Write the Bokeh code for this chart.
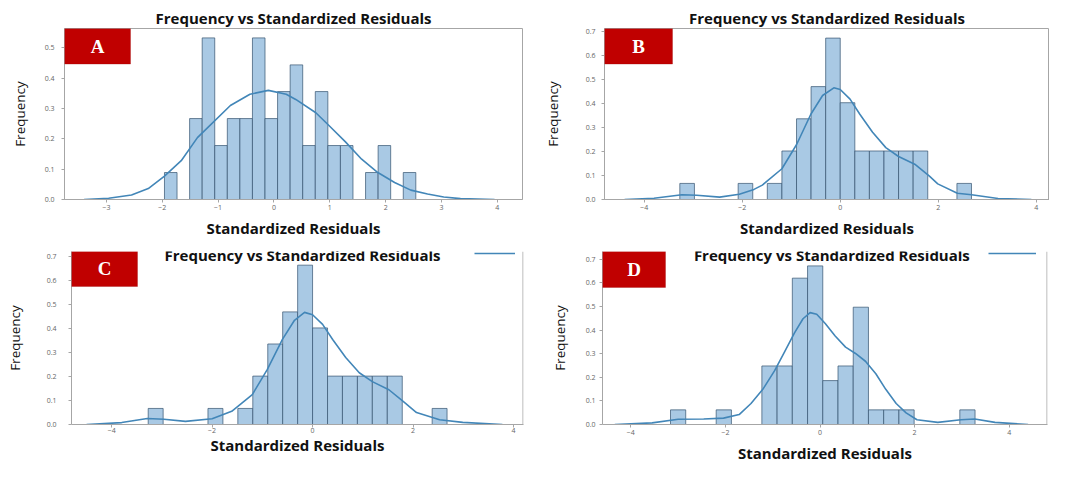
from bokeh.plotting import figure
from bokeh.layouts import column, row
from bokeh.models import (Range1d, FixedTicker, BoxAnnotation, Label, Span,
                          Legend, LegendItem, NumeralTickFormatter)
from bokeh.embed import file_html
from bokeh.resources import INLINE

# ---------------- data ----------------
title_text = "Frequency vs Standardized Residuals"
x_label = "Standardized Residuals"
y_label = "Frequency"
panel_letters = ["A", "B", "C", "D"]

x_ticks_a = [-3, -2, -1, 0, 1, 2, 3, 4]
x_ticks_bcd = [-4, -2, 0, 2, 4]
y_ticks_a = [0.0, 0.1, 0.2, 0.3, 0.4, 0.5]
y_ticks_bcd = [0.0, 0.1, 0.2, 0.3, 0.4, 0.5, 0.6, 0.7]

# Panel A
a_edges = [-1.96, -1.735, -1.51, -1.285, -1.06, -0.835, -0.61, -0.385, -0.16, 0.065,
           0.29, 0.515, 0.74, 0.965, 1.19, 1.415, 1.64, 1.865, 2.09, 2.315, 2.54]
a_density = [0.089, 0.0, 0.267, 0.533, 0.178, 0.267, 0.267, 0.533, 0.267, 0.356,
             0.444, 0.178, 0.356, 0.178, 0.178, 0.0, 0.089, 0.178, 0.0, 0.089]
a_kde_x = [-3.40, -2.96, -2.55, -2.25, -1.96, -1.66, -1.37, -1.26, -0.78, -0.43, -0.10,
           0.22, 0.39, 0.75, 0.98, 1.28, 1.57, 1.86, 2.16, 2.45, 2.75, 3.04, 3.34, 3.95]
a_kde_y = [0.0, 0.004, 0.015, 0.036, 0.077, 0.128, 0.204, 0.224, 0.31, 0.347, 0.36,
           0.347, 0.33, 0.286, 0.245, 0.19, 0.133, 0.089, 0.056, 0.031, 0.018, 0.008, 0.003, 0.0]

# Panel B
b_edges = [-3.273, -2.975, -2.678, -2.380, -2.083, -1.785, -1.488, -1.190, -0.892, -0.595,
           -0.297, 0.0, 0.298, 0.595, 0.893, 1.190, 1.488, 1.786, 2.083, 2.381, 2.678]
b_density = [0.067, 0.0, 0.0, 0.0, 0.067, 0.0, 0.067, 0.202, 0.336, 0.470,
             0.672, 0.403, 0.202, 0.202, 0.202, 0.202, 0.202, 0.0, 0.0, 0.067]
b_kde_x = [-4.40, -3.80, -3.23, -2.93, -2.46, -2.06, -1.76, -1.59, -1.19, -0.89, -0.60,
           -0.36, -0.13, 0.0, 0.20, 0.40, 0.66, 0.93, 1.19, 1.52, 1.82, 1.99, 2.39, 2.68,
           3.22, 3.90]
b_kde_y = [0.0, 0.005, 0.020, 0.018, 0.010, 0.022, 0.042, 0.060, 0.128, 0.229, 0.355,
           0.433, 0.465, 0.458, 0.418, 0.355, 0.280, 0.216, 0.179, 0.147, 0.097, 0.065, 0.026,
           0.020, 0.004, 0.0]

# Panel C
c_edges = [-3.273, -2.975, -2.678, -2.380, -2.083, -1.785, -1.488, -1.190, -0.892, -0.595,
           -0.297, 0.0, 0.298, 0.595, 0.893, 1.190, 1.488, 1.786, 2.083, 2.381, 2.678]
c_density = [0.067, 0.0, 0.0, 0.0, 0.067, 0.0, 0.067, 0.202, 0.336, 0.470,
             0.665, 0.403, 0.202, 0.202, 0.202, 0.202, 0.202, 0.0, 0.0, 0.067]
c_kde_x = [-4.50, -3.80, -3.29, -2.96, -2.53, -2.00, -1.61, -1.20, -0.90, -0.60, -0.36,
           -0.16, 0.0, 0.20, 0.40, 0.66, 0.93, 1.19, 1.52, 1.81, 2.07, 2.53, 2.99, 3.78]
c_kde_y = [0.0, 0.008, 0.025, 0.022, 0.013, 0.024, 0.055, 0.125, 0.23, 0.355, 0.435,
           0.468, 0.458, 0.418, 0.355, 0.280, 0.216, 0.179, 0.145, 0.095, 0.050, 0.020,
           0.009, 0.0]

# Panel D
d_edges = [-3.162, -2.840, -2.518, -2.196, -1.874, -1.552, -1.230, -0.908, -0.586, -0.264,
           0.058, 0.380, 0.702, 1.024, 1.346, 1.668, 1.990, 2.312, 2.634, 2.956, 3.278]
d_density = [0.062, 0.0, 0.0, 0.062, 0.0, 0.0, 0.248, 0.248, 0.620, 0.672,
             0.186, 0.248, 0.497, 0.062, 0.062, 0.062, 0.0, 0.0, 0.0, 0.062]
d_kde_x = [-4.34, -3.55, -3.00, -2.46, -2.04, -1.71, -1.46, -1.21, -0.96, -0.75, -0.54,
           -0.36, -0.21, -0.07, 0.11, 0.32, 0.54, 0.75, 0.96, 1.18, 1.39, 1.61, 1.82,
           2.05, 2.49, 2.98, 3.27, 3.70, 4.40]
d_kde_y = [0.0, 0.007, 0.022, 0.023, 0.027, 0.042, 0.089, 0.149, 0.228, 0.308, 0.388,
           0.448, 0.474, 0.467, 0.428, 0.375, 0.328, 0.301, 0.268, 0.215, 0.149, 0.089,
           0.049, 0.020, 0.009, 0.020, 0.023, 0.009, 0.0]

# ---------------- styling ----------------
FONT = "Open Sans"
BAR_FILL = "#a9c9e4"
BAR_LINE = "#35536f"
KDE_COLOR = "#4286b8"
FRAME = "#a6a6a6"
RED = "#c00000"


def minus(v):
    return str(v).replace("-", "\u2212")


def make_panel(cfg):
    W, H = cfg["size"]
    bl, br, bt, bb = cfg["borders"]
    x0, x1 = cfg["xr"]
    y0, y1 = cfg["yr"]
    p = figure(width=W, height=H, output_backend="svg", toolbar_location=None,
               x_range=Range1d(x0, x1), y_range=Range1d(y0, y1),
               min_border_left=bl, min_border_right=br,
               min_border_top=bt, min_border_bottom=bb)
    p.background_fill_color = "white"
    p.border_fill_color = "white"
    p.xgrid.visible = False
    p.ygrid.visible = False

    # histogram bars
    edges = cfg["edges"]
    p.quad(left=edges[:-1], right=edges[1:], bottom=0, top=cfg["density"],
           fill_color=BAR_FILL, fill_alpha=1.0, line_color=BAR_LINE,
           line_alpha=0.7, line_width=1)
    # kde curve
    kde = p.line(cfg["kde_x"], cfg["kde_y"], line_color=KDE_COLOR, line_width=1.6,
                 line_join="round")

    # axes
    for ax in (p.xaxis[0], p.yaxis[0]):
        ax.axis_line_color = FRAME
        ax.major_tick_line_color = FRAME
        ax.major_tick_out = 3
        ax.major_tick_in = 0
        ax.minor_tick_line_color = None
        ax.major_label_text_font = FONT
        ax.major_label_text_font_size = "7px"
        ax.major_label_text_color = "#666666"
        ax.axis_label_text_font = FONT
        ax.axis_label_text_color = "#111111"
    xa = p.xaxis[0]
    xa.ticker = FixedTicker(ticks=cfg["xticks"])
    xa.major_label_overrides = {t: minus(t) for t in cfg["xticks"]}
    xa.axis_label = x_label
    xa.axis_label_text_font_size = "15px"
    xa.axis_label_text_font_style = "bold"
    xa.major_label_standoff = cfg["xstand"][0]
    xa.axis_label_standoff = cfg["xstand"][1]
    ya = p.yaxis[0]
    ya.ticker = FixedTicker(ticks=cfg["yticks"])
    ya.formatter = NumeralTickFormatter(format="0.0")
    ya.axis_label = y_label
    ya.axis_label_text_font_size = "13.5px"
    ya.axis_label_text_font_style = "normal"
    ya.major_label_standoff = cfg["ystand"][0]
    ya.axis_label_standoff = cfg["ystand"][1]

    fw = W - bl - br
    fh = H - bt - bb
    ppx = fw / (x1 - x0)
    ppy = fh / (y1 - y0)

    if cfg["outline"]:
        p.outline_line_color = FRAME
        p.outline_line_width = 1
    else:
        p.outline_line_color = None
        p.add_layout(Span(location=x1 - 0.5 / ppx, dimension="height",
                          line_color=FRAME, line_width=1))

    # title
    if cfg["title_above"]:
        p.title.text = title_text
        p.title.align = "center"
        p.title.text_font = FONT
        p.title.text_font_size = "15px"
        p.title.text_font_style = "bold"
        p.title.text_color = "#111111"
        p.title.standoff = cfg["title_standoff"]
    else:
        tx, ty = cfg["title_pos"]
        p.add_layout(Label(x=tx, y=ty, text=title_text, text_font=FONT,
                           text_font_size="15px", text_font_style="bold",
                           text_color="#111111", text_align="center",
                           text_baseline="middle"))
        lx, ly, lw = cfg["legend"]
        leg = Legend(items=[LegendItem(label=" ", renderers=[kde])],
                     location=(lx, ly), glyph_width=lw, glyph_height=6,
                     label_width=0, label_standoff=0, label_text_font_size="1px",
                     padding=0, margin=0, spacing=0,
                     border_line_alpha=0, background_fill_alpha=0)
        p.add_layout(leg)

    # red letter box at the top-left corner of the frame
    bw, bh = cfg["box"]
    p.add_layout(BoxAnnotation(left=x0, right=x0 + bw / ppx,
                               bottom=y1 - bh / ppy, top=y1,
                               fill_color=RED, fill_alpha=1.0,
                               line_color="#9a0000", line_width=1))
    p.add_layout(Label(x=x0 + bw / ppx / 2, y=y1 - bh / ppy / 2, text=cfg["letter"],
                       text_font="Liberation Serif", text_font_size="19px",
                       text_font_style="bold", text_color="white",
                       text_align="center", text_baseline="middle"))
    return p


cfgs = [
    dict(size=(532, 240), borders=(64, 10, 28, 34), xr=(-3.75, 4.45), yr=(0, 0.564),
         edges=a_edges, density=a_density, kde_x=a_kde_x, kde_y=a_kde_y,
         xticks=x_ticks_a, yticks=y_ticks_a, xstand=(2, 5), ystand=(7, 13),
         outline=True, title_above=True, title_standoff=2, box=(66, 37),
         letter=panel_letters[0]),
    dict(size=(517, 240), borders=(72, 0, 28, 34), xr=(-4.81, 4.27), yr=(0, 0.712),
         edges=b_edges, density=b_density, kde_x=b_kde_x, kde_y=b_kde_y,
         xticks=x_ticks_bcd, yticks=y_ticks_bcd, xstand=(2, 5), ystand=(6, 21),
         outline=True, title_above=True, title_standoff=2, box=(68, 37),
         letter=panel_letters[1]),
    dict(size=(532, 225), borders=(71, 9, 11, 36), xr=(-4.8, 4.2), yr=(0, 0.722),
         edges=c_edges, density=c_density, kde_x=c_kde_x, kde_y=c_kde_y,
         xticks=x_ticks_bcd, yticks=y_ticks_bcd, xstand=(0, -1), ystand=(12, 20),
         outline=False, title_above=False, title_pos=(-0.2, 0.707),
         legend=(403, 168, 41), box=(66, 36), letter=panel_letters[2]),
    dict(size=(517, 225), borders=(70, 2, 11, 36), xr=(-4.6, 4.81), yr=(0, 0.733),
         edges=d_edges, density=d_density, kde_x=d_kde_x, kde_y=d_kde_y,
         xticks=x_ticks_bcd, yticks=y_ticks_bcd, xstand=(2, 5), ystand=(4, 14),
         outline=False, title_above=False, title_pos=(0.25, 0.717),
         legend=(386, 168, 48), box=(63, 37), letter=panel_letters[3]),
]

panels = [make_panel(c) for c in cfgs]
layout = column(row(panels[0], panels[1]), row(panels[2], panels[3]))

open("out.html", "w").write(file_html(layout, INLINE))
